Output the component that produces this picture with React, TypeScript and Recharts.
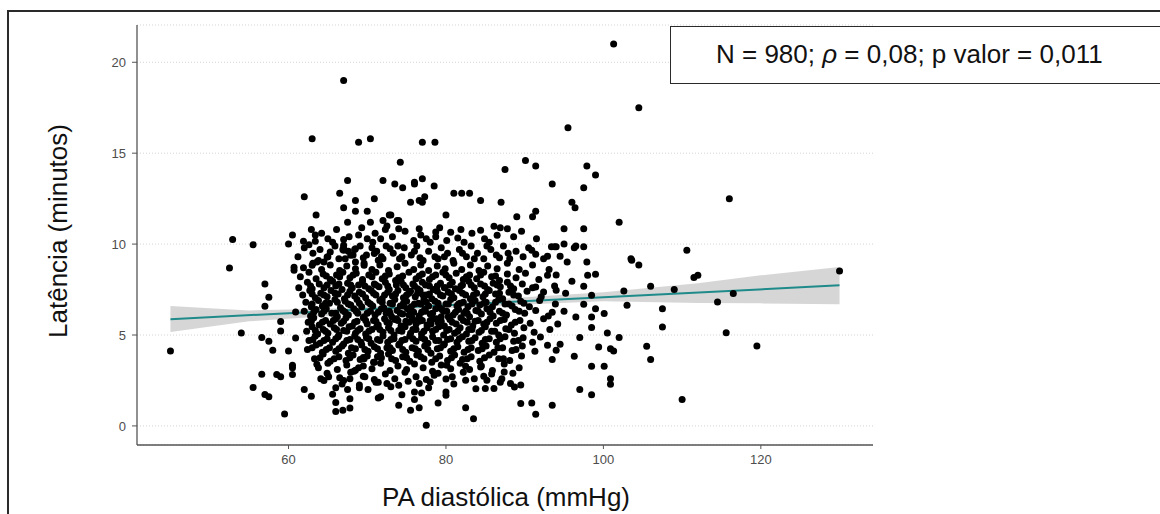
import { ComposedChart, Scatter, Line, Area, XAxis, YAxis, CartesianGrid } from 'recharts';

// axis ticks
const xTicks = [60, 80, 100, 120];
const yTicks = [0, 5, 10, 15, 20];

// regression line (ends)
const fitX = [45, 130];
const fitY = [5.87, 7.73];

// confidence band
const bandX = [45, 55, 65, 77, 90, 100, 112, 120, 130];
const bandLow = [5.17, 5.75, 6.05, 6.42, 6.68, 6.86, 6.76, 6.74, 6.69];
const bandHigh = [6.6, 6.35, 6.45, 6.7, 7.08, 7.35, 7.85, 8.28, 8.74];

// isolated points above the cloud
const ptsHigh: number[][] = [
  [101.3,21.0],[67.0,19.0],[104.5,17.5],[95.5,16.4],[63.0,15.8],[68.9,15.6],[70.4,15.8],[77.0,15.6],[78.6,15.6],
  [116.0,12.5],[90.1,14.6],[91.4,14.3],[87.5,14.1],[97.9,14.3],[99.0,13.8],[93.5,13.3],[97.5,13.1],[102.0,11.2],
  [96.0,12.3],[96.4,12.0],[91.4,11.8],[91.0,11.5],[89.0,11.5],[84.4,12.4],[87.0,12.3],[81.0,12.8],[82.0,12.8],
  [83.0,12.8],[80.0,11.6],[76.0,13.3],[77.0,13.6],[78.5,13.2],[74.2,14.5],[76.6,12.4],[77.0,12.3],[77.3,12.6],
  [75.5,12.3],[97.5,10.85],[95.0,10.85],[67.5,13.5],[72.0,13.5],[73.5,13.3],[62.0,12.6],[66.5,12.8],[68.5,12.4],
  [70.9,12.5],[63.5,11.6],[67.0,12.0],[68.5,11.8],[70.0,11.8],[72.8,11.6],[67.5,11.2],[70.4,11.2],[72.0,11.3],
  [72.5,11.0],[73.8,11.3],[62.9,10.8],[74.5,13.1],[76.0,13.4],[73.0,11.6],[74.0,11.3],[74.0,10.85],[76.6,10.85],
  [78.7,10.67],[84.4,10.76],[86.1,10.98],[87.8,10.85],
];

// isolated points to the right
const ptsRight: number[][] = [
  [110.6,9.66],[103.5,9.2],[95.0,10.0],[96.3,9.8],[97.5,9.85],[93.8,9.85],[93.4,9.85],[103.6,9.11],[104.5,8.85],
  [130.0,8.52],[111.5,8.16],[112.0,8.28],[109.0,7.5],[106.0,7.68],[102.6,7.42],[98.5,7.19],[96.0,7.95],[97.5,7.68],
  [98.0,8.28],[99.0,8.34],[92.9,8.28],[92.4,7.37],[94.0,7.46],[91.4,7.64],[116.5,7.28],[114.5,6.82],[107.5,6.45],
  [103.0,6.64],[97.5,6.69],[99.0,6.45],[100.1,6.18],[98.5,5.99],[96.5,5.99],[93.5,6.25],[98.5,5.41],[107.5,5.44],
  [115.6,5.13],[100.5,5.11],[97.0,4.86],[102.0,4.86],[92.0,4.89],[92.9,4.44],[94.0,4.16],[94.5,4.49],[99.4,4.34],
  [100.9,4.25],[101.3,4.12],[105.5,4.38],[119.5,4.4],[106.0,3.65],[96.3,3.83],[93.5,3.65],[98.5,3.28],[100.1,3.28],
  [100.9,2.6],[100.9,2.29],[97.0,2.0],[98.5,1.72],[110.0,1.45],[90.9,1.26],[91.4,0.64],[93.5,1.14],[95.4,9.02],
  [97.9,9.02],[94.5,9.33],[92.4,9.2],[92.9,9.33],[90.9,9.66],[91.4,9.44],[94.0,9.85],[96.5,9.9],
];

// isolated points left and below
const ptsLow: number[][] = [
  [45.0,4.12],[52.5,8.69],[54.0,5.11],[57.0,7.8],[57.5,7.07],[57.0,6.58],[59.0,5.74],[59.0,5.22],[56.6,4.86],
  [57.5,4.66],[58.0,4.16],[60.0,4.12],[60.5,3.34],[60.5,2.83],[56.6,2.84],[58.5,2.83],[59.0,2.7],[55.5,2.11],
  [57.0,1.73],[57.5,1.6],[59.5,0.66],[60.9,4.84],[62.0,2.0],[62.9,1.63],[60.7,8.72],[60.7,8.56],[60.9,6.27],
  [60.5,3.2],[63.6,3.39],[64.1,2.6],[64.5,2.5],[65.1,2.7],[65.6,1.74],[66.0,2.1],[66.0,1.29],[66.0,0.79],
  [67.0,2.5],[67.8,2.6],[67.5,2.0],[66.9,0.86],[67.8,0.99],[67.8,1.5],[69.0,2.25],[70.1,2.0],[71.4,1.54],
  [69.5,2.73],[68.5,3.06],[68.9,3.2],[69.5,3.76],[70.9,3.5],[71.4,2.4],[77.5,0.04],[83.5,0.4],[82.5,1.0],
  [75.5,0.86],[76.6,1.0],[74.0,1.14],[79.0,1.26],[76.0,1.45],[76.0,1.87],[74.4,1.72],[76.9,1.81],[71.7,1.6],
  [80.0,1.87],[80.0,1.69],[74.0,2.24],[76.6,2.33],[78.0,2.42],[80.0,2.58],[78.5,2.79],[72.5,2.33],[85.0,2.06],
  [86.1,2.06],[88.2,2.33],[88.7,2.14],[89.5,1.23],[82.5,2.51],[84.8,2.73],[85.2,2.51],[87.4,2.97],[84.4,3.24],
  [82.5,3.28],[80.1,3.34],[52.9,10.25],[55.5,9.97],[60.0,10.0],[60.5,10.5],[61.9,10.15],[62.6,9.97],[63.4,10.15],
  [65.6,10.1],[67.0,10.25],[67.7,10.4],[68.9,10.5],[70.0,10.3],[71.7,10.3],[67.0,9.8],[68.4,9.7],[72.9,9.75],
  [67.0,9.93],[67.0,9.66],[68.5,9.75],[65.3,9.57],[64.9,9.29],[67.9,9.38],[63.0,8.83],[63.6,9.02],[64.5,9.02],
  [68.5,9.02],[70.9,9.48],[71.4,9.11],[69.6,8.83],[80.6,10.65],[81.5,10.34],[82.3,10.1],[85.5,10.1],[86.5,10.48],
  [78.7,10.4],[77.5,10.3],
];

// dense cloud, upper part (y 8 - 11)
const ptsCoreUpper: number[][] = [
  [64.2,10.6],[66.1,10.8],[69.3,10.9],[71.0,10.6],[73.2,10.4],[74.8,10.7],[75.9,10.2],[79.2,10.9],[80.1,10.2],
  [83.3,10.6],[84.9,10.3],[86.9,10.9],[88.6,10.4],[89.6,10.7],[76.8,10.5],[65.0,10.3],[70.7,10.1],[72.3,10.8],
  [78.0,10.1],[81.9,10.8],[91.5,10.3],[63.4,10.5],
  [61.2,9.3],[62.0,9.8],[63.1,9.5],[64.0,9.7],[65.9,9.9],[66.4,9.2],[67.6,9.6],[69.1,9.9],[69.9,9.4],[70.6,9.8],
  [71.8,9.3],[72.4,9.9],[73.3,9.5],[74.1,9.2],[74.7,9.8],[75.6,9.4],[76.3,9.9],[77.1,9.1],[77.8,9.6],[78.6,9.3],
  [79.4,9.8],[80.2,9.5],[80.9,9.1],[81.7,9.7],[82.6,9.3],[83.2,9.9],[84.0,9.5],[84.8,9.2],[85.7,9.7],[86.4,9.4],
  [87.3,9.9],[88.1,9.2],[88.9,9.6],[89.8,9.3],[90.5,9.8],[71.2,9.6],[73.9,9.9],[76.0,9.6],[79.0,9.2],[82.1,9.5],
  [85.2,9.9],[87.9,9.5],[68.2,9.4],[66.9,9.7],[63.8,9.1],
  [61.9,8.7],[63.1,8.95],[64.2,8.6],[65.3,8.85],[66.5,8.55],[67.4,8.8],[68.5,8.65],[69.6,8.95],[70.6,8.6],
  [71.6,8.85],[72.7,8.55],[73.8,8.75],[74.8,8.95],[75.9,8.6],[76.8,8.85],[77.8,8.55],[78.9,8.8],[79.9,8.65],
  [81.0,8.95],[82.0,8.6],[83.1,8.85],[84.2,8.55],[85.3,8.8],[86.5,8.65],[87.8,8.95],[89.3,8.6],[91.0,8.85],[93.1,8.6],
  [61.5,8.2],[62.6,8.45],[63.5,8.1],[64.4,8.35],[65.3,8.05],[66.1,8.3],[66.9,8.45],[67.8,8.15],[68.6,8.4],
  [69.4,8.05],[70.2,8.3],[71.1,8.45],[71.9,8.1],[72.8,8.35],[73.6,8.0],[74.5,8.25],[75.3,8.45],[76.2,8.1],
  [77.0,8.35],[77.9,8.05],[78.7,8.3],[79.6,8.45],[80.4,8.15],[81.3,8.4],[82.2,8.05],[83.0,8.3],[83.9,8.1],
  [84.8,8.45],[85.8,8.2],[86.8,8.0],[87.8,8.35],[88.9,8.15],[90.1,8.4],[91.8,8.05],[94.0,8.3],
];

// dense cloud, middle part (y 5.5 - 8)
const ptsCoreMid: number[][] = [
  [61.3,7.6],[62.4,7.9],[63.0,7.55],[63.9,7.8],[64.5,7.6],[65.6,7.95],[66.0,7.7],[66.8,7.5],[67.5,7.85],
  [68.1,7.6],[68.9,7.75],[69.4,7.95],[70.2,7.55],[70.9,7.8],[71.5,7.65],[72.3,7.9],[72.8,7.5],[73.7,7.75],
  [74.3,7.95],[74.9,7.6],[75.8,7.8],[76.4,7.55],[77.0,7.9],[77.9,7.7],[78.4,7.5],[79.3,7.85],[79.9,7.6],
  [80.8,7.9],[81.2,7.55],[82.1,7.75],[82.9,7.95],[83.6,7.6],[84.4,7.8],[85.3,7.5],[86.0,7.85],[86.9,7.65],
  [87.8,7.9],[88.6,7.55],[89.7,7.8],[91.0,7.6],[93.8,7.7],
  [61.8,7.2],[62.7,7.45],[63.4,7.05],[64.1,7.3],[64.9,7.1],[65.4,7.45],[66.3,7.25],[67.1,7.0],[67.8,7.4],
  [68.4,7.15],[69.0,7.35],[69.8,7.05],[70.5,7.45],[71.1,7.2],[71.9,7.0],[72.6,7.35],[73.2,7.15],[73.9,7.45],
  [74.6,7.05],[75.3,7.3],[76.1,7.1],[76.7,7.45],[77.5,7.2],[78.2,7.0],[78.9,7.4],[79.6,7.15],[80.3,7.35],
  [81.0,7.05],[81.7,7.45],[82.5,7.2],[83.1,7.0],[83.9,7.3],[84.7,7.1],[85.5,7.45],[86.3,7.25],[87.2,7.0],
  [88.0,7.35],[89.2,7.15],[90.3,7.4],[92.1,7.1],[95.2,7.3],
  [62.2,6.8],[62.9,6.55],[63.8,6.9],[64.3,6.6],[65.2,6.75],[65.9,6.95],[66.6,6.5],[67.2,6.85],[67.9,6.65],
  [68.7,6.95],[69.3,6.55],[70.1,6.8],[70.7,6.6],[71.6,6.9],[72.1,6.5],[72.9,6.75],[73.5,6.95],[74.2,6.6],
  [75.0,6.85],[75.6,6.55],[76.5,6.75],[77.2,6.95],[77.8,6.6],[78.6,6.85],[79.2,6.5],[80.0,6.7],[80.6,6.95],
  [81.4,6.6],[82.2,6.8],[82.8,6.55],[83.7,6.9],[84.3,6.65],[85.1,6.8],[85.9,6.55],[86.7,6.95],[87.5,6.7],
  [88.4,6.6],[89.5,6.85],[90.6,6.55],[91.9,6.9],[93.9,6.7],
  [62.0,6.3],[62.8,6.05],[63.5,6.4],[64.2,6.15],[64.8,6.45],[65.5,6.2],[66.2,6.0],[66.9,6.35],[67.6,6.1],
  [68.3,6.45],[68.8,6.2],[69.6,6.0],[70.4,6.3],[71.0,6.1],[71.8,6.45],[72.4,6.2],[73.1,6.0],[73.8,6.35],
  [74.5,6.15],[75.1,6.45],[75.9,6.25],[76.6,6.05],[77.3,6.4],[78.0,6.15],[78.7,6.45],[79.4,6.0],[80.1,6.3],
  [80.9,6.1],[81.6,6.4],[82.3,6.2],[83.0,6.0],[83.8,6.35],[84.5,6.15],[85.2,6.45],[86.0,6.05],[86.8,6.3],
  [87.7,6.1],[88.8,6.4],[90.0,6.2],[91.4,6.35],[93.0,6.05],[95.0,6.3],
  [62.5,5.7],[63.2,5.95],[63.9,5.55],[64.7,5.8],[65.3,5.6],[66.0,5.9],[66.7,5.65],[67.3,5.95],[68.1,5.5],
  [68.7,5.75],[69.5,5.95],[70.0,5.6],[70.8,5.8],[71.4,5.55],[72.2,5.9],[72.8,5.65],[73.5,5.85],[74.3,5.5],
  [74.9,5.75],[75.7,5.95],[76.2,5.6],[77.0,5.8],[77.6,5.55],[78.4,5.9],[79.0,5.7],[79.8,5.5],[80.5,5.85],
  [81.3,5.6],[81.9,5.95],[82.7,5.7],[83.4,5.5],[84.1,5.8],[84.8,5.6],[85.6,5.9],[86.4,5.65],[87.4,5.85],
  [88.3,5.55],[89.4,5.8],[90.7,5.65],[92.4,5.9],[94.2,5.6],
  [75.3,6.1],[76.0,5.8],[77.4,6.3],[78.8,5.9],[79.5,6.4],[74.6,6.6],[76.8,6.7],[78.1,5.6],[80.3,6.0],
  [73.7,5.9],[81.6,6.7],[77.1,7.2],[75.5,7.4],[79.8,7.6],[82.5,6.3],[72.9,6.2],
];

// dense cloud, lower part (y 2 - 5.5)
const ptsCoreLower: number[][] = [
  [62.3,5.2],[63.0,5.45],[63.7,5.05],[64.4,5.3],[65.0,5.1],[65.8,5.4],[66.4,5.0],[67.0,5.25],[67.7,5.45],
  [68.5,5.1],[69.1,5.35],[69.8,5.05],[70.6,5.3],[71.2,5.45],[72.0,5.15],[72.7,5.4],[73.4,5.0],[74.0,5.25],
  [74.8,5.45],[75.5,5.1],[76.2,5.3],[76.9,5.05],[77.6,5.4],[78.3,5.2],[79.1,5.45],[79.7,5.0],[80.4,5.3],
  [81.1,5.1],[81.8,5.4],[82.6,5.05],[83.3,5.3],[84.2,5.15],[85.0,5.45],[85.8,5.2],[86.7,5.0],[87.6,5.35],
  [88.7,5.1],[89.9,5.4],[91.2,5.15],[93.2,5.3],
  [62.6,4.7],[63.4,4.95],[64.0,4.55],[64.9,4.8],[65.6,4.6],[66.3,4.9],[67.0,4.5],[67.8,4.75],[68.4,4.95],
  [69.2,4.6],[69.9,4.85],[70.5,4.55],[71.3,4.75],[72.0,4.95],[72.6,4.6],[73.4,4.8],[74.1,4.5],[74.8,4.75],
  [75.4,4.95],[76.2,4.65],[76.9,4.85],[77.7,4.55],[78.3,4.9],[79.1,4.7],[79.8,4.5],[80.6,4.8],[81.4,4.6],
  [82.1,4.9],[82.9,4.65],[83.7,4.85],[84.6,4.55],[85.5,4.8],[86.4,4.6],[87.5,4.9],[88.6,4.65],[89.8,4.85],[91.0,4.6],
  [62.4,4.2],[63.5,4.45],[64.3,4.05],[65.2,4.3],[66.0,4.1],[66.8,4.4],[67.6,4.0],[68.5,4.25],[69.3,4.45],
  [70.1,4.1],[70.9,4.35],[71.7,4.0],[72.5,4.3],[73.2,4.15],[74.0,4.45],[74.9,4.05],[75.7,4.3],[76.5,4.1],
  [77.3,4.4],[78.1,4.0],[78.9,4.25],[79.7,4.45],[80.6,4.1],[81.5,4.35],[82.3,4.05],[83.2,4.3],[84.1,4.15],
  [85.1,4.4],[86.1,4.05],[87.2,4.3],[88.4,4.15],[89.7,4.4],[91.3,4.1],
  [63.3,3.7],[64.4,3.95],[65.3,3.55],[66.4,3.8],[67.3,3.6],[68.2,3.9],[69.1,3.65],[70.0,3.85],[70.8,3.5],
  [71.8,3.75],[72.7,3.95],[73.6,3.6],[74.5,3.8],[75.4,3.55],[76.3,3.9],[77.2,3.7],[78.2,3.5],[79.2,3.85],
  [80.2,3.6],[81.1,3.9],[82.1,3.65],[83.2,3.8],[84.3,3.55],[85.5,3.9],[86.7,3.7],[88.1,3.6],[89.6,3.85],
  [63.8,3.2],[65.0,3.45],[66.2,3.1],[67.4,3.35],[68.3,3.0],[69.5,3.3],[70.6,3.15],[71.7,3.45],[72.9,3.05],
  [73.9,3.3],[75.0,3.1],[76.0,3.4],[77.1,3.2],[78.3,3.0],[79.4,3.35],[80.6,3.15],[81.8,3.45],[83.0,3.1],
  [84.5,3.3],[85.9,3.05],[87.4,3.4],[89.3,3.2],
  [64.9,2.9],[66.5,2.65],[67.9,2.95],[69.7,2.7],[70.9,2.55],[72.3,2.85],[73.5,2.6],[74.8,2.95],[76.2,2.7],
  [77.5,2.55],[79.0,2.9],[80.8,2.7],[82.2,2.95],[83.6,2.6],[85.8,2.85],[87.1,2.6],[88.5,2.9],
  [66.8,2.3],[69.0,2.1],[71.1,2.4],[73.0,2.15],[75.2,2.45],[77.8,2.1],[81.0,2.3],[83.8,2.05],[86.9,2.4],[89.5,2.25],
];

// extra points filling the darkest part of the cloud
const ptsCoreFill: number[][] = [
  [64.8,8.25],[66.5,8.2],[68.2,8.3],[70.6,8.2],[72.3,8.25],[74.0,8.15],[76.6,8.25],[78.3,8.2],[80.0,8.3],
  [82.6,8.2],[84.4,8.3],[86.3,8.25],
  [62.8,7.7],[64.9,7.75],[66.4,7.8],[67.9,7.75],[69.7,7.7],[71.1,7.75],[72.6,7.7],[74.6,7.75],[76.0,7.7],
  [77.4,7.75],[78.9,7.7],[80.5,7.75],[81.9,7.7],[83.2,7.75],[84.9,7.7],[86.5,7.75],[88.2,7.7],
  [63.0,7.25],[64.5,7.2],[65.9,7.3],[67.5,7.2],[69.4,7.25],[70.8,7.3],[72.2,7.2],[73.6,7.25],[75.0,7.2],
  [76.4,7.3],[77.9,7.25],[79.3,7.2],[80.7,7.25],[82.1,7.3],[83.5,7.2],[85.0,7.25],[86.8,7.3],[88.6,7.2],
  [63.0,6.7],[64.7,6.75],[66.2,6.8],[67.6,6.7],[69.0,6.75],[70.4,6.7],[71.9,6.8],[73.2,6.7],[74.6,6.75],
  [76.0,6.7],[77.5,6.8],[79.0,6.75],[80.3,6.7],[81.8,6.75],[83.3,6.7],[84.8,6.75],[86.3,6.8],[88.0,6.7],[89.9,6.75],
  [63.2,6.25],[64.5,6.3],[66.0,6.2],[67.2,6.25],[68.6,6.3],[70.0,6.2],[71.4,6.25],[72.8,6.3],[74.2,6.2],
  [75.5,6.3],[76.9,6.25],[78.3,6.2],[79.7,6.3],[81.2,6.25],[82.7,6.2],[84.1,6.3],[85.6,6.25],[87.2,6.2],[89.3,6.3],
  [62.9,5.75],[64.3,5.7],[65.7,5.8],[67.0,5.75],[68.4,5.7],[69.8,5.8],[71.1,5.75],[72.5,5.7],[73.9,5.8],
  [75.3,5.7],[76.6,5.75],[78.0,5.8],[79.4,5.75],[80.8,5.7],[82.2,5.8],[83.7,5.75],[85.2,5.7],[86.9,5.8],[88.8,5.7],
  [63.4,5.25],[64.7,5.2],[66.1,5.3],[67.4,5.2],[68.8,5.25],[70.2,5.2],[71.6,5.3],[73.0,5.25],[74.4,5.2],
  [75.8,5.3],[77.2,5.2],[78.7,5.3],[80.1,5.25],[81.5,5.2],[82.9,5.3],[84.5,5.25],[86.2,5.2],[88.0,5.3],
  [63.1,4.75],[64.5,4.7],[66.0,4.8],[67.4,4.7],[68.8,4.75],[70.2,4.8],[71.6,4.7],[73.0,4.75],[74.4,4.7],
  [75.8,4.8],[77.3,4.75],[78.7,4.7],[80.2,4.75],[81.7,4.8],[83.3,4.7],[85.0,4.75],[86.9,4.8],[89.2,4.7],
  [63.0,4.3],[64.8,4.2],[66.4,4.25],[68.0,4.3],[69.7,4.2],[71.3,4.25],[72.9,4.3],[74.5,4.2],[76.1,4.25],
  [77.7,4.2],[79.3,4.3],[81.0,4.25],[82.8,4.2],[84.6,4.25],[86.6,4.3],[88.9,4.2],
  [64.0,3.75],[65.8,3.7],[67.8,3.75],[69.6,3.7],[71.3,3.8],[73.1,3.7],[75.0,3.75],[76.8,3.8],[78.7,3.7],
  [80.7,3.75],[82.7,3.7],[84.9,3.75],[87.3,3.7],
  [65.0,9.3],[67.2,9.2],[69.5,9.25],[72.0,9.2],[74.4,9.3],[76.7,9.25],[79.8,9.3],[83.6,9.2],[86.8,9.25],
];

const points = [...ptsHigh, ...ptsRight, ...ptsLow, ...ptsCoreUpper, ...ptsCoreMid, ...ptsCoreLower, ...ptsCoreFill].map(([x, y]) => ({ x, y }));
const fitData = fitX.map((x, i) => ({ x, fit: fitY[i] }));
const bandData = bandX.map((x, i) => ({ x, band: [bandLow[i], bandHigh[i]] }));

const font = 'Liberation Sans, Arial, sans-serif';

const Dot = (p: any) => <circle cx={p.cx} cy={p.cy} r={3.5} fill="#000" />;

export default function App() {
  return (
    <div style={{ position: 'absolute', left: 0, top: 0, width: 1160, height: 514, background: '#fff', overflow: 'hidden', fontFamily: font }}>
      <div style={{ position: 'absolute', left: 7, top: 10, width: 1300, height: 700, border: '2px solid #2a2a2a' }} />
      <ComposedChart width={1160} height={514} margin={{ top: 25, right: 287, bottom: 39, left: 77 }}>
        <CartesianGrid vertical={false} stroke="#d4d4d4" strokeDasharray="1 2" />
        <XAxis
          type="number"
          dataKey="x"
          domain={[40.75, 134.25]}
          ticks={xTicks}
          allowDataOverflow
          height={30}
          tickSize={4}
          tickMargin={6}
          axisLine={{ stroke: '#555', strokeWidth: 1.3 }}
          tickLine={{ stroke: '#555' }}
          tick={{ fill: '#4d4d4d', fontSize: 13, fontFamily: font }}
        />
        <YAxis
          type="number"
          domain={[-1.05, 22.05]}
          ticks={yTicks}
          allowDataOverflow
          width={60}
          tickSize={5}
          tickMargin={6}
          axisLine={{ stroke: '#555', strokeWidth: 1.3 }}
          tickLine={{ stroke: '#555' }}
          tick={{ fill: '#4d4d4d', fontSize: 13, fontFamily: font }}
        />
        <Scatter data={points} dataKey="y" shape={Dot} isAnimationActive={false} />
        <Area data={bandData} dataKey="band" type="linear" stroke="none" fill="#999999" fillOpacity={0.4} isAnimationActive={false} dot={false} activeDot={false} />
        <Line data={fitData} dataKey="fit" type="linear" stroke="#1f8a8a" strokeWidth={2} dot={false} activeDot={false} isAnimationActive={false} />
      </ComposedChart>
      <div style={{ position: 'absolute', left: 670, top: 26, width: 600, height: 56, border: '1.5px solid #2a2a2a', background: '#fff' }}>
        <div style={{ position: 'absolute', left: 45, top: 12, fontSize: 26, lineHeight: '30px', color: '#111', whiteSpace: 'nowrap' }}>
          N = 980; <span style={{ fontStyle: 'italic' }}>ρ</span> = 0,08; p valor = 0,011
        </div>
      </div>
      <div style={{ position: 'absolute', left: 58, top: 231, transform: 'translate(-50%, -50%) rotate(-90deg)', fontSize: 26, color: '#111', whiteSpace: 'nowrap' }}>
        Latência (minutos)
      </div>
      <div style={{ position: 'absolute', left: 506, top: 497, transform: 'translate(-50%, -50%)', fontSize: 26, color: '#111', whiteSpace: 'nowrap' }}>
        PA diastólica (mmHg)
      </div>
    </div>
  );
}
